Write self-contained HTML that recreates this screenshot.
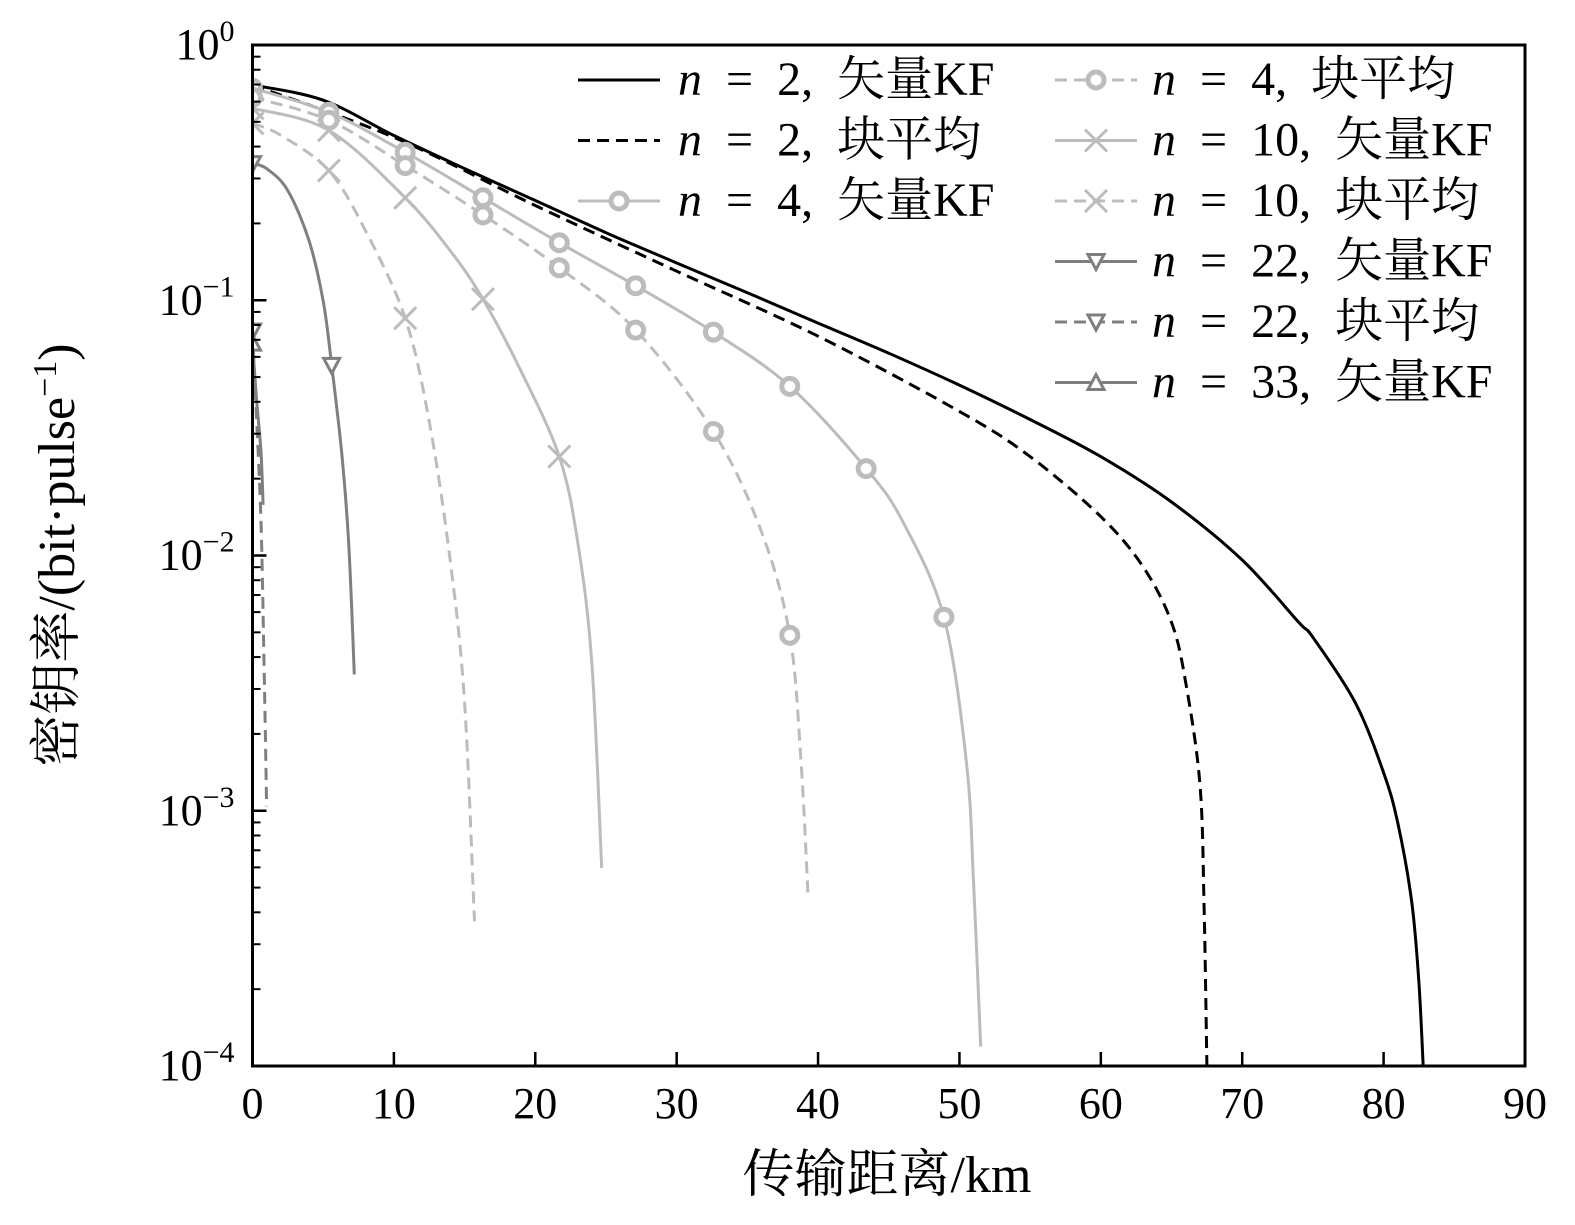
<!DOCTYPE html>
<html><head><meta charset="utf-8">
<style>
html,body{margin:0;padding:0;background:#fff;overflow:hidden;}
svg text{font-family:"Liberation Serif","Noto Serif CJK SC",serif;fill:#000;}
</style></head>
<body>
<svg id="chart" width="1575" height="1220" viewBox="0 0 1575 1220" xmlns="http://www.w3.org/2000/svg">
<g id="plot"></g>
<g id="axes"></g>
<g id="legend"></g>
<text x="887" y="1192" font-size="52" text-anchor="middle">传输距离/km</text>
<text transform="translate(74,555) rotate(-90)" font-size="52" text-anchor="middle">密钥率/(bit·pulse<tspan baseline-shift="super" font-size="34">−1</tspan>)</text>
</svg>
<script>
const xTicks=[0,10,20,30,40,50,60,70,80,90];
const yDecades=[0,-1,-2,-3,-4];
const seriesLabels=["n = 2, 矢量KF","n = 2, 块平均","n = 4, 矢量KF","n = 4, 块平均","n = 10, 矢量KF","n = 10, 块平均","n = 22, 矢量KF","n = 22, 块平均","n = 33, 矢量KF"];
const n2kfX=[0,5,10,15,20,25,30,35,40,45,50,55,60,65,70,74,75,78,80,81,82,82.5,82.8];
const n2kfY=[0.697,0.608,0.442,0.328,0.246,0.184,0.140,0.107,0.0814,0.0620,0.0465,0.0341,0.0244,0.0162,0.0096,0.00547,0.00478,0.00265,0.00141,0.000895,0.000434,0.00021,0.0001];
const n2baX=[0,10,20,30,40,50,55,60,63,65,66,67,67.3,67.5];
const n2baY=[0.697,0.435,0.235,0.130,0.0723,0.0367,0.0244,0.0142,0.00901,0.00547,0.00318,0.00129,0.000434,0.0001];
const n4kfX=[0,5.4,10.8,16.3,21.7,27.1,32.6,38,43.4,46,48.9,50.5,51,51.5];
const n4kfY=[0.677,0.545,0.380,0.252,0.168,0.114,0.0750,0.0460,0.0219,0.01355,0.00573,0.00154,0.00052,0.000119];
const n4kfM=[0,1,2,3,4,5,6,7,8,10];
const n4baX=[0,5.4,10.8,16.3,21.7,27.1,32.6,36,38,38.8,39.3];
const n4baY=[0.624,0.507,0.337,0.216,0.134,0.0764,0.0306,0.01237,0.00487,0.00154,0.000454];
const n4baM=[0,1,2,3,4,5,6,8];
const n10kfX=[0,5.4,10.8,14,16.3,19,21.7,23,24,24.7];
const n10kfY=[0.565,0.463,0.252,0.156,0.101,0.0527,0.0244,0.0113,0.00381,0.000596];
const n10kfM=[0,1,2,4,6];
const n10baX=[0,2,5.4,8,10.8,12.5,14,15,15.7];
const n10baY=[0.493,0.443,0.322,0.187,0.0851,0.0335,0.00942,0.00265,0.000369];
const n10baM=[0,2,4];
const n22kfX=[0,1,2.5,4,5,5.6,6.3,6.8,7.2];
const n22kfY=[0.343,0.328,0.269,0.171,0.0993,0.0556,0.0255,0.0113,0.00342];
const n22kfM=[0,5];
const n22baX=[0,0.3,0.6,0.8,1.0];
const n22baY=[0.0757,0.0335,0.01355,0.00417,0.00104];
const n22baM=[0];
const n33kfX=[0,0.3,0.6,0.75];
const n33kfY=[0.0679,0.0402,0.0255,0.0158];
const n33kfM=[0];

const L=252.5,R=1525,T=45,B=1066;
const xs=v=>L+(v-0)/(90-0)*(R-L);
const ys=v=>T+(-Math.log10(v))/4*(B-T);
const NS="http://www.w3.org/2000/svg";
function mk(tag,attrs,parent){const e=document.createElementNS(NS,tag);for(const k in attrs)e.setAttribute(k,attrs[k]);parent.appendChild(e);return e;}
const plot=document.getElementById('plot'),axes=document.getElementById('axes'),legend=document.getElementById('legend');
const LG='#bcbcbc',DG='#7f7f7f';
const series=[
 {x:n2kfX,y:n2kfY,m:[],c:'#000',d:'',mk:null,name:'series-n2-vector-kf'},
 {x:n2baX,y:n2baY,m:[],c:'#000',d:'12 7',mk:null,name:'series-n2-block-average'},
 {x:n4kfX,y:n4kfY,m:n4kfM,c:LG,d:'',mk:'o',name:'series-n4-vector-kf'},
 {x:n4baX,y:n4baY,m:n4baM,c:LG,d:'12 7',mk:'o',name:'series-n4-block-average'},
 {x:n10kfX,y:n10kfY,m:n10kfM,c:LG,d:'',mk:'x',name:'series-n10-vector-kf'},
 {x:n10baX,y:n10baY,m:n10baM,c:LG,d:'12 7',mk:'x',name:'series-n10-block-average'},
 {x:n22kfX,y:n22kfY,m:n22kfM,c:DG,d:'',mk:'v',name:'series-n22-vector-kf'},
 {x:n22baX,y:n22baY,m:n22baM,c:DG,d:'12 7',mk:'v',name:'series-n22-block-average'},
 {x:n33kfX,y:n33kfY,m:n33kfM,c:DG,d:'',mk:'^',name:'series-n33-vector-kf'}
];
function marker(type,cx,cy,c,g){
 let e;
 if(type==='o'){e=mk('circle',{cx:cx,cy:cy,r:8,fill:'#fff',stroke:c,'stroke-width':5},g);}
 else if(type==='x'){e=mk('path',{d:`M${cx-11},${cy-11}L${cx+11},${cy+11}M${cx-11},${cy+11}L${cx+11},${cy-11}`,stroke:c,'stroke-width':3,fill:'none'},g);}
 else if(type==='v'){e=mk('path',{d:`M${cx-8},${cy-7}L${cx+8},${cy-7}L${cx},${cy+8}Z`,stroke:c,'stroke-width':3,fill:'#fff'},g);}
 else {e=mk('path',{d:`M${cx-8},${cy+7}L${cx+8},${cy+7}L${cx},${cy-8}Z`,stroke:c,'stroke-width':3,fill:'#fff'},g);}
 
 
}
function smoothPath(P){
 let d='M'+P[0][0].toFixed(1)+','+P[0][1].toFixed(1);
 for(let i=0;i<P.length-1;i++){
  const p0=P[Math.max(i-1,0)],p1=P[i],p2=P[i+1],p3=P[Math.min(i+2,P.length-1)];
  const c1=[p1[0]+(p2[0]-p0[0])/6,p1[1]+(p2[1]-p0[1])/6];
  const c2=[p2[0]-(p3[0]-p1[0])/6,p2[1]-(p3[1]-p1[1])/6];
  d+='C'+c1[0].toFixed(1)+','+c1[1].toFixed(1)+' '+c2[0].toFixed(1)+','+c2[1].toFixed(1)+' '+p2[0].toFixed(1)+','+p2[1].toFixed(1);
 }
 return d;
}
const clip=mk('clipPath',{id:'cp'},mk('defs',{},plot));
mk('rect',{x:L,y:T-12,width:R-L,height:B-T+12},clip);
series.forEach(s=>{
 const g=mk('g',{'clip-path':'url(#cp)'},plot);
 
 
 const pts=s.x.map((v,i)=>[xs(v),ys(s.y[i])]);
 const p=mk('path',{d:smoothPath(pts),fill:'none',stroke:s.c,'stroke-width':3,'stroke-dasharray':s.d,'stroke-linejoin':'round'},g);
 
 
 s.m.forEach(i=>marker(s.mk,xs(s.x[i]),ys(s.y[i]),s.c,g));
});
const fr=mk('rect',{x:L,y:T,width:R-L,height:B-T,fill:'none',stroke:'#000','stroke-width':3},axes);


xTicks.forEach(t=>{
 const x=xs(t);
 const tk=mk('line',{x1:x,y1:B,x2:x,y2:B-14,stroke:'#000','stroke-width':2.5},axes);
 
 
 const lb=mk('text',{x:x,y:B+52,'font-size':44,'text-anchor':'middle'},axes);
 lb.textContent=t;
 
 
});
yDecades.forEach(k=>{
 const y=ys(Math.pow(10,k));
 const tk=mk('line',{x1:L,y1:y,x2:L+14,y2:y,stroke:'#000','stroke-width':2.5},axes);
 
 
 const lb=mk('text',{x:L-18,y:y+14,'font-size':44,'text-anchor':'end'},axes);
 lb.innerHTML='10<tspan dy="-18" font-size="30">'+(k===0?'0':'−'+(-k))+'</tspan>';
 
 
 if(k>-4){for(let m=2;m<=9;m++){
  const yy=ys(m*Math.pow(10,k-1));
  const mt=mk('line',{x1:L,y1:yy,x2:L+8,y2:yy,stroke:'#000','stroke-width':2},axes);
  
  
 }}
});
const cols=[{lx:578,tx:678,rows:[0,1,2]},{lx:1055,tx:1152,rows:[3,4,5,6,7,8]}];
cols.forEach(col=>{
 col.rows.forEach((si,r)=>{
  const s=series[si];const y=80+r*60.5;
  const g=mk('g',{},legend);
  
  
  mk('line',{x1:col.lx,y1:y,x2:col.lx+82,y2:y,stroke:s.c,'stroke-width':3,'stroke-dasharray':s.d},g);
  if(s.mk)marker(s.mk,col.lx+41,y,s.c,g);
  const t=mk('text',{x:col.tx,y:y+15,'font-size':48},g);
  const parts=seriesLabels[si].split(' = ');
  const sub=parts[1].split(', ');
  t.innerHTML='<tspan font-style="italic">n</tspan>\u2002=\u2002'+sub[0]+',\u2002'+sub[1];
 });
});
</script>
</body></html>
